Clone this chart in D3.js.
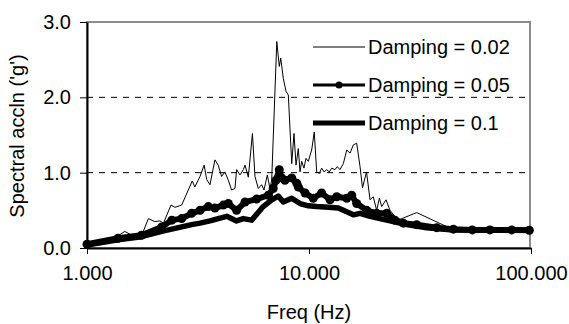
<!DOCTYPE html>
<html lang="en">

<head>
  <meta charset="UTF-8">
  <title>spectral accln</title>
  <style>
    body {
      margin: 0;
      background: #fff;
    }

    svg {
      display: block;
      font-family: "Liberation Sans", Arial, sans-serif;
    }

    .tick text {
      font-size: 20px;
      fill: #000;
    }

    .tick line {
      stroke: #000;
    }
  </style>
</head>

<body>
  <div class="container"></div>
</body>
<script src="https://d3js.org/d3.v7.min.js"></script>
<script>
  // Damping = 0.02 (thin line)
  const freq02 = [1.00, 1.21, 1.36, 1.48, 1.59, 1.76, 1.89, 2.02, 2.13, 2.21, 2.39, 2.49, 2.67, 2.98, 3.06,
    3.23, 3.37, 3.46, 3.58, 3.77, 3.90, 4.04, 4.18, 4.33, 4.48, 4.64, 4.72, 4.89, 5.06, 5.15, 5.33, 5.56,
    5.71, 5.91, 6.12, 6.27, 6.49, 6.67, 6.79, 7.16, 7.35, 7.46, 7.66, 7.88, 8.07, 8.36, 8.56, 8.74, 8.95,
    9.11, 9.27, 9.49, 9.69, 9.93, 10.28, 10.56, 10.83, 11.13, 11.40, 11.69, 12.02, 12.34, 12.65, 13.09,
    13.41, 13.79, 14.28, 14.79, 15.31, 15.84, 16.40, 16.98, 17.42, 18.16, 18.83, 19.48, 20.17, 20.75,
    21.25, 22.23, 23.17, 24.38, 25.70, 30.55, 42.0, 44.5, 54.2, 65.3, 81.3, 98.9]
  const acc02 = [0.05, 0.10, 0.15, 0.22, 0.17, 0.16, 0.39, 0.35, 0.36, 0.33, 0.57, 0.54, 0.57, 0.89, 0.81,
    0.95, 1.10, 0.91, 0.84, 1.17, 1.10, 0.95, 1.01, 0.90, 0.77, 0.79, 1.04, 0.97, 1.04, 1.10, 0.94, 1.52,
    0.95, 0.79, 0.84, 0.77, 0.97, 0.79, 0.90, 2.74, 2.41, 2.52, 2.25, 2.08, 2.03, 1.12, 1.52, 1.10, 1.32,
    1.01, 1.15, 1.06, 1.19, 1.15, 1.30, 1.54, 1.01, 0.99, 1.06, 1.01, 1.04, 1.01, 1.06, 1.04,
    1.08, 1.04, 1.12, 1.30, 1.26, 1.37, 1.39, 1.08, 0.80, 1.01, 0.64, 0.68, 0.50, 0.66,
    0.55, 0.64, 0.50, 0.42, 0.38, 0.47, 0.28, 0.25, 0.25, 0.28, 0.25, 0.23]

  // Damping = 0.05 (line with markers)
  const freq05 = [1.00, 1.38, 1.76, 2.17, 2.41, 2.67, 2.96, 3.23, 3.52, 3.77, 4.11, 4.33, 4.72, 5.15, 5.81,
    6.56, 6.90, 7.10, 7.35, 7.53, 7.79, 8.36, 8.81, 8.95, 9.60, 10.45, 11.40, 12.44, 13.33, 14.79, 15.57,
    16.40, 18.19, 20.17, 22.39, 24.38, 26.60, 30.55, 37.6, 44.7, 54.4, 65.3, 81.9, 98.3]
  const acc05 = [0.05, 0.13, 0.17, 0.28, 0.37, 0.39, 0.46, 0.50, 0.55, 0.53, 0.57, 0.59, 0.50, 0.61, 0.65,
    0.70, 0.79, 0.90, 1.04, 0.93, 0.90, 0.93, 0.86, 0.81, 0.73, 0.66, 0.73, 0.64, 0.68, 0.66, 0.70,
    0.59, 0.50, 0.46, 0.46, 0.37, 0.33, 0.31, 0.27, 0.25, 0.24, 0.24, 0.24, 0.235]

  // Damping = 0.1 (heavy line)
  const freq10 = [1.00, 1.38, 1.76, 2.17, 2.58, 2.96, 3.23, 3.58, 3.90, 4.26, 4.72, 5.06, 5.52, 6.22, 6.79,
    7.27, 7.66, 8.07, 8.36, 9.11, 9.93, 10.83, 12.22, 13.55, 14.79, 15.84, 16.98, 18.83, 20.9, 23.99,
    27.54, 33.9, 44.7, 58.9, 98.0]
  const acc10 = [0.04, 0.11, 0.15, 0.22, 0.27, 0.31, 0.33, 0.36, 0.39, 0.42, 0.36, 0.39, 0.37, 0.55, 0.64,
    0.69, 0.61, 0.64, 0.66, 0.59, 0.56, 0.55, 0.54, 0.53, 0.48, 0.44, 0.46, 0.42, 0.39, 0.35,
    0.31, 0.27, 0.24, 0.24, 0.235]

  const seriesNames = ['Damping = 0.02', 'Damping = 0.05', 'Damping = 0.1']
  const xTicks = [1, 10, 100]
  const yTicks = [0, 1, 2, 3]
  const gridTicks = [1, 2]

  main()

  function main() {
    let W = 569, H = 324
    let left = 87, right = 531, top = 22, bottom = 248

    const xScale = d3.scaleLog()
      .domain([1, 100])
      .range([left, right])

    const yScale = d3.scaleLinear()
      .domain([0, 3])
      .range([bottom, top])

    let svg = d3.select('.container')
      .append('svg')
      .attr('width', W)
      .attr('height', H)

    // plot area border (grey, top and right)
    svg.append('rect')
      .attr('x', left)
      .attr('y', top)
      .attr('width', right - 1 - left)
      .attr('height', bottom - top)
      .attr('fill', 'none')
      .attr('stroke', '#8c8c8c')
      .attr('stroke-width', 2)

    // dashed gridlines
    svg.selectAll('.grid')
      .data(gridTicks)
      .enter()
      .append('line')
      .attr('class', 'grid')
      .attr('x1', left)
      .attr('x2', right - 1)
      .attr('y1', d => yScale(d))
      .attr('y2', d => yScale(d))
      .attr('stroke', '#000')
      .attr('stroke-width', 1)
      .attr('stroke-dasharray', '6,6')

    // x axis
    let xAxis = d3.axisBottom(xScale)
      .tickValues(xTicks)
      .tickFormat(d3.format('.3f'))
      .tickSize(6)
      .tickSizeOuter(0)
      .tickPadding(12)
    let gx = svg.append('g')
      .attr('transform', `translate(0, ${bottom})`)
      .call(xAxis)
    gx.select('.domain').attr('stroke', '#000').attr('stroke-width', 2)

    // y axis
    let yAxis = d3.axisLeft(yScale)
      .tickValues(yTicks)
      .tickFormat(d3.format('.1f'))
      .tickSize(7)
      .tickSizeOuter(0)
      .tickPadding(9)
    let gy = svg.append('g')
      .attr('transform', `translate(${left}, 0)`)
      .call(yAxis)
    gy.select('.domain').attr('stroke', '#000').attr('stroke-width', 2)

    const line = d3.line()
      .x(d => xScale(d[0]))
      .y(d => yScale(d[1]))

    let d02 = freq02.map((f, i) => [f, acc02[i]])
    let d05 = freq05.map((f, i) => [f, acc05[i]])
    let d10 = freq10.map((f, i) => [f, acc10[i]])

    svg.append('path')
      .datum(d02)
      .attr('d', line)
      .attr('fill', 'none')
      .attr('stroke', '#000')
      .attr('stroke-width', 1)
      .attr('stroke-linejoin', 'round')

    svg.append('path')
      .datum(d05)
      .attr('d', line)
      .attr('fill', 'none')
      .attr('stroke', '#000')
      .attr('stroke-width', 6)
      .attr('stroke-linejoin', 'round')

    svg.selectAll('.dot')
      .data(d05)
      .enter()
      .append('circle')
      .attr('class', 'dot')
      .attr('cx', d => xScale(d[0]))
      .attr('cy', d => yScale(d[1]))
      .attr('r', 4.5)
      .attr('fill', '#000')

    svg.append('path')
      .datum(d10)
      .attr('d', line)
      .attr('fill', 'none')
      .attr('stroke', '#000')
      .attr('stroke-width', 5.5)
      .attr('stroke-linejoin', 'round')

    // legend
    let legendY = [47, 85, 123]
    let legendW = [1, 3, 5]
    let legend = svg.append('g')
    seriesNames.forEach((name, i) => {
      legend.append('line')
        .attr('x1', 313)
        .attr('x2', 365)
        .attr('y1', legendY[i])
        .attr('y2', legendY[i])
        .attr('stroke', '#000')
        .attr('stroke-width', legendW[i])
      if (i === 1) {
        legend.append('circle')
          .attr('cx', 339)
          .attr('cy', legendY[i])
          .attr('r', 3.5)
          .attr('fill', '#000')
      }
      legend.append('text')
        .attr('x', 368)
        .attr('y', legendY[i])
        .attr('dy', '0.35em')
        .style('font-size', '20px')
        .text(name)
    })

    // axis titles
    svg.append('text')
      .attr('x', (left + right) / 2)
      .attr('y', 312)
      .attr('dy', '0.35em')
      .attr('text-anchor', 'middle')
      .style('font-size', '20px')
      .text('Freq (Hz)')

    svg.append('text')
      .attr('transform', 'translate(17, 136) rotate(-90)')
      .attr('dy', '0.35em')
      .attr('text-anchor', 'middle')
      .style('font-size', '20px')
      .text("Spectral accln ('g')")
  }
</script>

</html>
